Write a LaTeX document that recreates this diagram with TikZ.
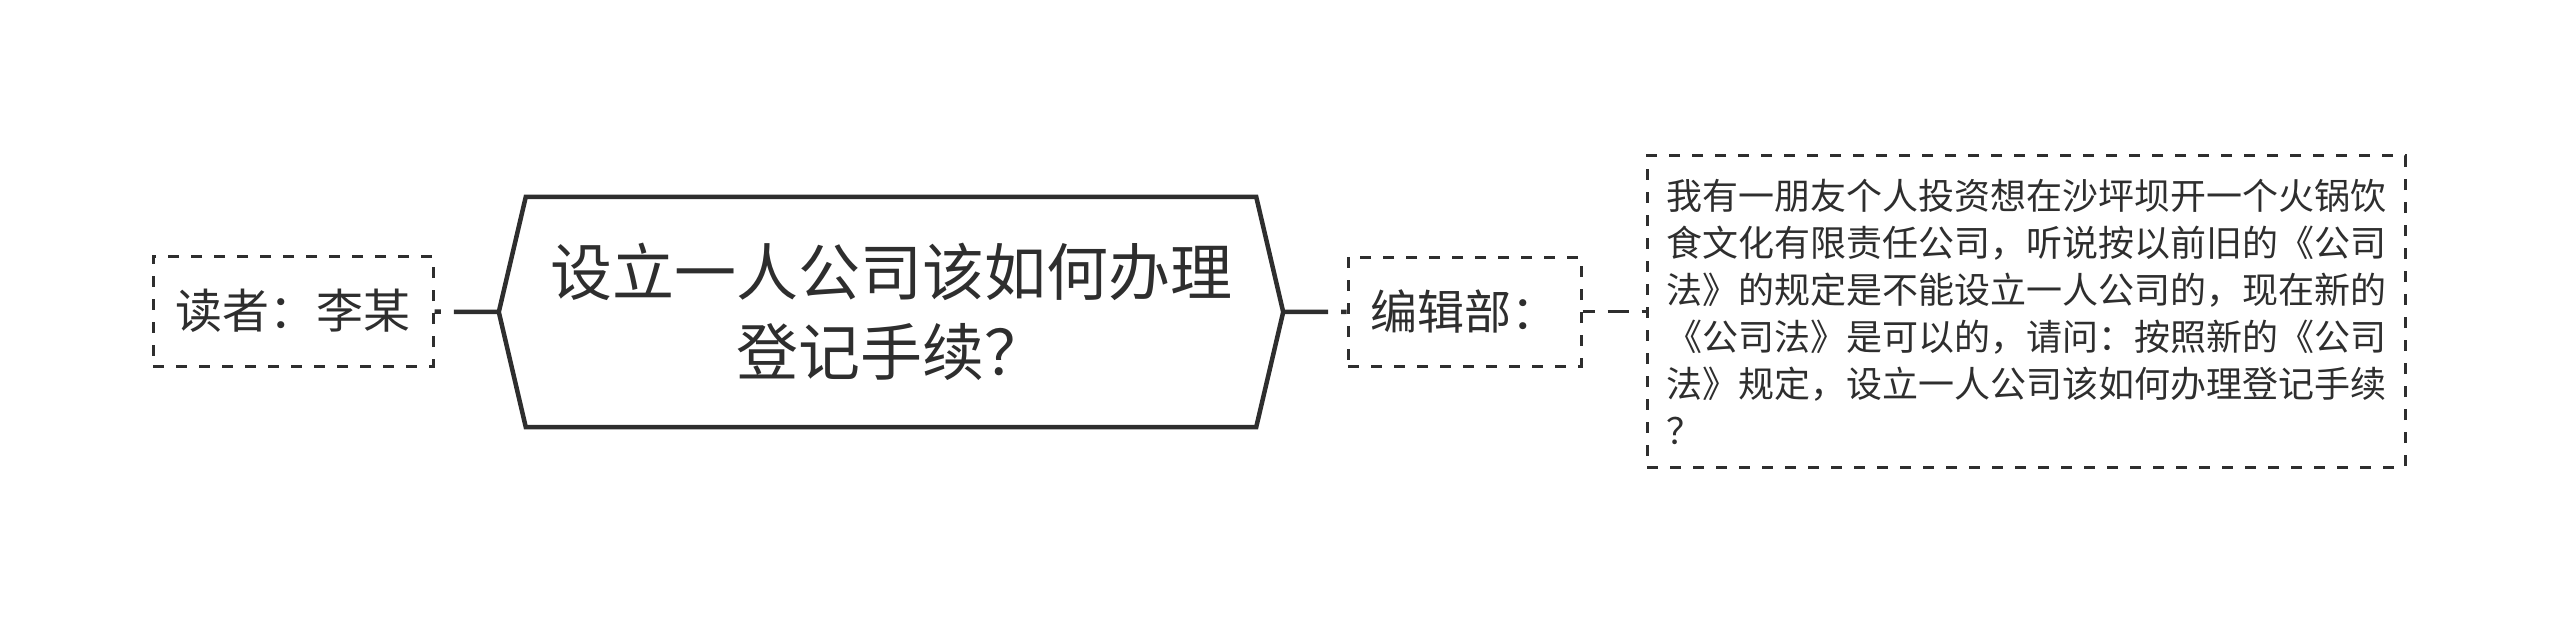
\documentclass[tikz,border=0pt]{standalone}
\usepackage{fontspec}
\setmainfont{Noto Sans CJK SC}
\usetikzlibrary{positioning,calc}
\definecolor{ink}{HTML}{2E2E2E}

\begin{document}
\begin{tikzpicture}[x=1pt,y=-1pt]
                    \tikzstyle{every node}=[rectangle,inner sep=0,text=ink]
                    \tikzstyle{dashbox}=[draw=ink,line width=3pt,dash pattern=on 11pt off 12pt]
                    \tikzstyle{topicline}=[draw=ink,line width=4.5pt,dash pattern=on 45pt off 13pt]
                    \tikzstyle{noteline}=[draw=ink,line width=3pt,dash pattern=on 21pt off 13pt,dash phase=9pt]
                    \useasboundingbox (0,0) rectangle (2560,623);
                    {
                        \node (topic) at (891,312) [minimum width=730,minimum height=230,align=center,
                            font=\fontsize{62}{80}\selectfont] {设立一人公司该如何办理\\登记手续？};
                        \coordinate (topicl) at ([xshift=-27]topic.west);
                        \coordinate (topicr) at ([xshift=27]topic.east);

                        \draw[draw=ink,line width=4.5pt,line join=miter]
                            (topic.north west) -- (topic.north east) -- (topicr)
                            -- (topic.south east) -- (topic.south west) -- (topicl) -- cycle;

                        \node[dashbox,minimum width=280,minimum height=110,font=\fontsize{47}{56}\selectfont]
                            (reader) at (293,311) {读者：李某};
                        \node[dashbox,minimum width=233,minimum height=109,font=\fontsize{47}{56}\selectfont]
                            (editor) at (1464.5,311.5) {编辑部：};
                        \node[dashbox,minimum height=311,inner xsep=19,text width=720,align=left,
                            font=\fontsize{36}{47}\selectfont] (answer) at (2026,311.5)
                            {我有一朋友个人投资想在沙坪坝开一个火锅饮\\
                             食文化有限责任公司，听说按以前旧的《公司\\
                             法》的规定是不能设立一人公司的，现在新的\\
                             《公司法》是可以的，请问：按照新的《公司\\
                             法》规定，设立一人公司该如何办理登记手续\\
                             ？};

                        \path[topicline]
                            (topicl) -- (reader)
                            (topicr) -- (editor);
                        \path[noteline]
                            (editor) -- (answer);
                    }
\end{tikzpicture}
\end{document}
